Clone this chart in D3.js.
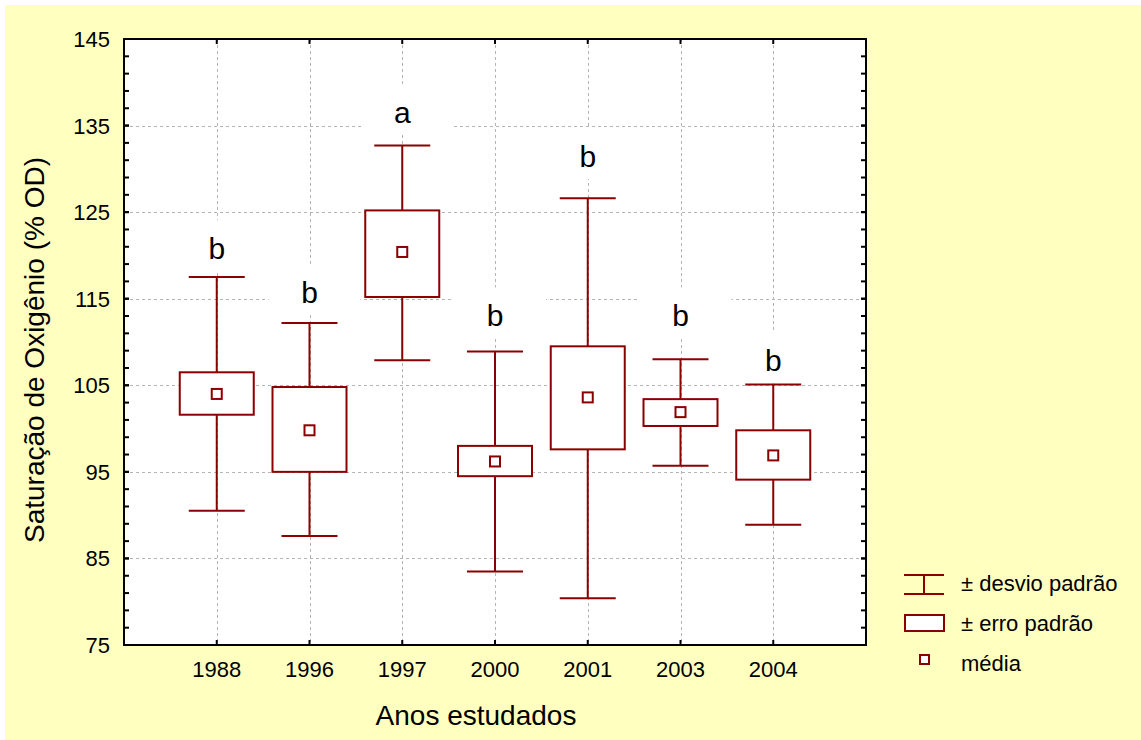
<!DOCTYPE html>
<html lang="pt">
<head>
  <meta charset="UTF-8">
  <title>Saturação de Oxigênio</title>
  <script src="https://cdn.jsdelivr.net/npm/d3@7"></script>
  <style>
    body { margin: 0; background: #fff; }
    text { font-family: "Liberation Sans", Arial, sans-serif; fill: #000; }
  </style>
</head>
<body>
  <svg id="chart"></svg>
  <script>
    // valores
    const years = ['1988', '1996', '1997', '2000', '2001', '2003', '2004'];
    const means = [104.0, 99.8, 120.4, 96.2, 103.6, 101.9, 96.9];
    const seLow = [101.6, 95.0, 115.2, 94.5, 97.6, 100.3, 94.1];
    const seHigh = [106.5, 104.8, 125.2, 98.0, 109.5, 103.4, 99.8];
    const sdLow = [90.5, 87.6, 107.9, 83.5, 80.4, 95.7, 88.9];
    const sdHigh = [117.5, 112.2, 132.7, 108.9, 126.6, 108.0, 105.1];
    const letters = ['b', 'b', 'a', 'b', 'b', 'b', 'b'];
    const letterAt = [119.6, 114.5, 135.3, 111.8, 130.2, 111.8, 106.6];
    const yTicks = [75, 85, 95, 105, 115, 125, 135, 145];
    const legendItems = ['± desvio padrão', '± erro padrão', 'média'];

    const W = 1141, H = 740;
    const pL = 124, pR = 866, pT = 39, pB = 645;
    const red = '#8b0000';

    const svg = d3.select('#chart').attr('width', W).attr('height', H);

    svg.append('rect').attr('x', 5).attr('y', 5)
      .attr('width', W - 5).attr('height', H - 5)
      .attr('fill', '#ffffc0');

    svg.append('rect').attr('x', pL).attr('y', pT)
      .attr('width', pR - pL).attr('height', pB - pT)
      .attr('fill', '#fff');

    const x = d3.scalePoint().domain(years).range([pL, pR]).padding(1);
    const y = d3.scaleLinear().domain([75, 145]).range([pB, pT]);

    const data = years.map((yr, i) => ({
      yr, mean: means[i], seLow: seLow[i], seHigh: seHigh[i],
      sdLow: sdLow[i], sdHigh: sdHigh[i], letter: letters[i], letterAt: letterAt[i]
    }));

    // grade pontilhada
    const grid = svg.append('g').attr('stroke', '#b4b4b4').attr('stroke-width', 1)
      .attr('stroke-dasharray', '3,3');
    grid.selectAll('.hg').data(yTicks.slice(1, -1)).enter().append('line')
      .attr('x1', pL).attr('x2', pR)
      .attr('y1', d => Math.round(y(d)) + 0.5).attr('y2', d => Math.round(y(d)) + 0.5);
    grid.selectAll('.vg').data(years).enter().append('line')
      .attr('x1', d => Math.round(x(d)) + 0.5).attr('x2', d => Math.round(x(d)) + 0.5)
      .attr('y1', pT).attr('y2', pB);

    // fundo branco das letras
    svg.append('g').selectAll('rect').data(data).enter().append('rect')
      .attr('x', d => x(d.yr) + 5 - 46)
      .attr('y', d => y(d.letterAt) - 39)
      .attr('width', 92).attr('height', 51)
      .attr('fill', '#fff');

    // desvio padrao
    const g = svg.append('g').attr('stroke', red).attr('stroke-width', 2).attr('fill', 'none');
    g.selectAll('.stem').data(data).enter().append('line')
      .attr('x1', d => x(d.yr)).attr('x2', d => x(d.yr))
      .attr('y1', d => y(d.sdHigh)).attr('y2', d => y(d.sdLow));
    g.selectAll('.capT').data(data).enter().append('line')
      .attr('x1', d => x(d.yr) - 28).attr('x2', d => x(d.yr) + 28)
      .attr('y1', d => y(d.sdHigh)).attr('y2', d => y(d.sdHigh));
    g.selectAll('.capB').data(data).enter().append('line')
      .attr('x1', d => x(d.yr) - 28).attr('x2', d => x(d.yr) + 28)
      .attr('y1', d => y(d.sdLow)).attr('y2', d => y(d.sdLow));

    // erro padrao
    g.selectAll('.box').data(data).enter().append('rect')
      .attr('x', d => x(d.yr) - 37)
      .attr('y', d => y(d.seHigh))
      .attr('width', 74)
      .attr('height', d => y(d.seLow) - y(d.seHigh))
      .attr('fill', '#fff');

    // media
    g.selectAll('.mean').data(data).enter().append('rect')
      .attr('x', d => x(d.yr) - 5).attr('y', d => y(d.mean) - 5)
      .attr('width', 10).attr('height', 10)
      .attr('fill', '#fff');

    // letras
    svg.append('g').selectAll('text').data(data).enter().append('text')
      .attr('x', d => x(d.yr))
      .attr('y', d => y(d.letterAt))
      .attr('text-anchor', 'middle')
      .attr('font-size', 30)
      .text(d => d.letter);

    // moldura e marcas
    const frame = svg.append('g').attr('stroke', '#000').attr('stroke-width', 2);
    frame.append('rect').attr('x', pL).attr('y', pT)
      .attr('width', pR - pL).attr('height', pB - pT).attr('fill', 'none');
    const minor = d3.range(75, 146, 2).concat(yTicks);
    frame.selectAll('.tl').data(minor).enter().append('line')
      .attr('x1', pL).attr('x2', pL + 5)
      .attr('y1', d => y(d)).attr('y2', d => y(d));
    frame.selectAll('.tr').data(minor).enter().append('line')
      .attr('x1', pR).attr('x2', pR - 5)
      .attr('y1', d => y(d)).attr('y2', d => y(d));
    frame.selectAll('.tb').data(years).enter().append('line')
      .attr('x1', d => x(d)).attr('x2', d => x(d))
      .attr('y1', pB).attr('y2', pB - 5);
    frame.selectAll('.tt').data(years).enter().append('line')
      .attr('x1', d => x(d)).attr('x2', d => x(d))
      .attr('y1', pT).attr('y2', pT + 5);

    svg.append('g').selectAll('text').data(yTicks).enter().append('text')
      .attr('x', pL - 14).attr('y', d => y(d) + 8)
      .attr('text-anchor', 'end').attr('font-size', 22)
      .text(d => d);
    svg.append('g').selectAll('text').data(years).enter().append('text')
      .attr('x', d => x(d)).attr('y', 677)
      .attr('text-anchor', 'middle').attr('font-size', 22)
      .text(d => d);

    svg.append('text').attr('x', 476).attr('y', 725)
      .attr('text-anchor', 'middle').attr('font-size', 28)
      .text('Anos estudados');
    svg.append('text')
      .attr('transform', 'translate(44,350) rotate(-90)')
      .attr('text-anchor', 'middle').attr('font-size', 28)
      .text('Saturação de Oxigênio (% OD)');

    // legenda
    const leg = svg.append('g');
    const lg = leg.append('g').attr('stroke', red).attr('stroke-width', 2).attr('fill', 'none');
    lg.append('line').attr('x1', 904).attr('x2', 944).attr('y1', 575).attr('y2', 575);
    lg.append('line').attr('x1', 904).attr('x2', 944).attr('y1', 594).attr('y2', 594);
    lg.append('line').attr('x1', 924).attr('x2', 924).attr('y1', 575).attr('y2', 594);
    lg.append('rect').attr('x', 905).attr('y', 615).attr('width', 39).attr('height', 16).attr('fill', '#fff');
    lg.append('rect').attr('x', 920).attr('y', 655).attr('width', 9).attr('height', 9).attr('fill', '#fff');
    leg.selectAll('text').data(legendItems).enter().append('text')
      .attr('x', 961).attr('y', (d, i) => 591 + i * 40)
      .attr('font-size', 22)
      .text(d => d);
  </script>
</body>
</html>
